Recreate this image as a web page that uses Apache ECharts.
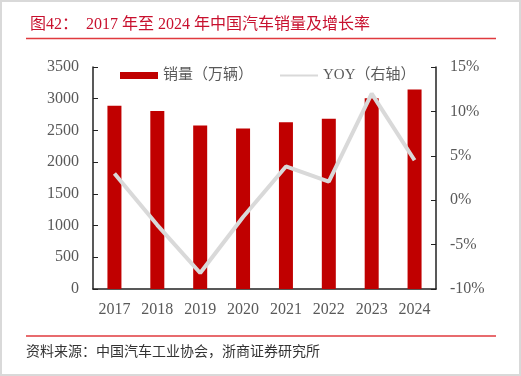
<!DOCTYPE html>
<html>
<head>
<meta charset="utf-8">
<script src="https://cdn.jsdelivr.net/npm/echarts@6/dist/echarts.min.js"></script>
<style>
  html, body { margin: 0; padding: 0; background: #fff; }
  #chart { width: 521px; height: 376px; }
</style>
</head>
<body>
<div id="chart"></div>
<script>
// 年份
var years = ["2017", "2018", "2019", "2020", "2021", "2022", "2023", "2024"];
// 销量（万辆）
var sales = [2888, 2808, 2577, 2531, 2628, 2686, 3009, 3144];
// 同比增速 %
var yoy = [3.0, -2.8, -8.2, -1.9, 3.8, 2.1, 12.0, 4.5];

var serif = "'Liberation Serif', 'Noto Sans CJK SC', serif";
var chart = echarts.init(document.getElementById("chart"));

chart.setOption({
  animation: false,
  backgroundColor: "#fff",
  title: {
    text: "图42：  2017 年至 2024 年中国汽车销量及增长率",
    left: 25,
    top: 12,
    textStyle: {
      color: "#c8102e",
      fontSize: 16,
      fontWeight: "normal",
      fontFamily: serif,
    },
  },
  graphic: [
    // 外框
    {
      type: "rect",
      shape: { x: 1, y: 1, width: 519, height: 374 },
      style: { fill: "none", stroke: "#d9d9d9", lineWidth: 2 },
    },
    // 标题下红线
    {
      type: "line",
      shape: { x1: 26, y1: 38.5, x2: 496, y2: 38.5 },
      style: { stroke: "#e03a3e", lineWidth: 1.5 },
    },
    // 来源上红线
    {
      type: "line",
      shape: { x1: 26, y1: 336, x2: 496, y2: 336 },
      style: { stroke: "#e03a3e", lineWidth: 1.5 },
    },
    {
      type: "text",
      left: 26,
      top: 344,
      style: {
        text: "资料来源：中国汽车工业协会，浙商证券研究所",
        fill: "#333",
        font: "14px 'Noto Sans CJK SC'",
      },
    },
  ],
  legend: {
    left: 115,
    top: 63,
    itemWidth: 38,
    itemHeight: 7,
    itemGap: 26,
    textStyle: {
      color: "#595959",
      fontSize: 15,
      fontFamily: serif,
    },
    data: [
      { name: "销量（万辆）", icon: "rect" },
      { name: "YOY（右轴）", itemStyle: { opacity: 0 } },
    ],
  },
  grid: {
    left: 93,
    right: 85,
    top: 67,
    bottom: 87,
  },
  xAxis: {
    type: "category",
    data: years,
    axisLine: { lineStyle: { color: "#222", width: 1.5 } },
    axisTick: { show: false },
    axisLabel: {
      color: "#595959",
      fontSize: 16,
      fontFamily: serif,
      margin: 13,
    },
  },
  yAxis: [
    {
      type: "value",
      min: 0,
      max: 3500,
      interval: 500,
      axisLine: { show: true, lineStyle: { color: "#222", width: 1.5 } },
      axisTick: { show: true, inside: true, length: 5, lineStyle: { color: "#222" } },
      splitLine: { show: false },
      axisLabel: {
        color: "#595959",
        fontSize: 16,
        fontFamily: serif,
        margin: 14,
        formatter: function (v) {
          return String(v);
        },
      },
    },
    {
      type: "value",
      min: -10,
      max: 15,
      interval: 5,
      position: "right",
      axisLine: { show: true, lineStyle: { color: "#222", width: 1.5 } },
      axisTick: { show: true, inside: true, length: 5, lineStyle: { color: "#222" } },
      splitLine: { show: false },
      axisLabel: {
        color: "#595959",
        fontSize: 16,
        fontFamily: serif,
        margin: 14,
        formatter: "{value}%",
      },
    },
  ],
  series: [
    {
      name: "销量（万辆）",
      type: "bar",
      barWidth: 14,
      itemStyle: { color: "#c00000" },
      data: sales,
    },
    {
      name: "YOY（右轴）",
      type: "line",
      yAxisIndex: 1,
      symbol: "none",
      z: 5,
      itemStyle: { color: "#d9d9d9" },
      lineStyle: { color: "#d9d9d9", width: 4 },
      data: yoy,
    },
  ],
});
</script>
</body>
</html>
